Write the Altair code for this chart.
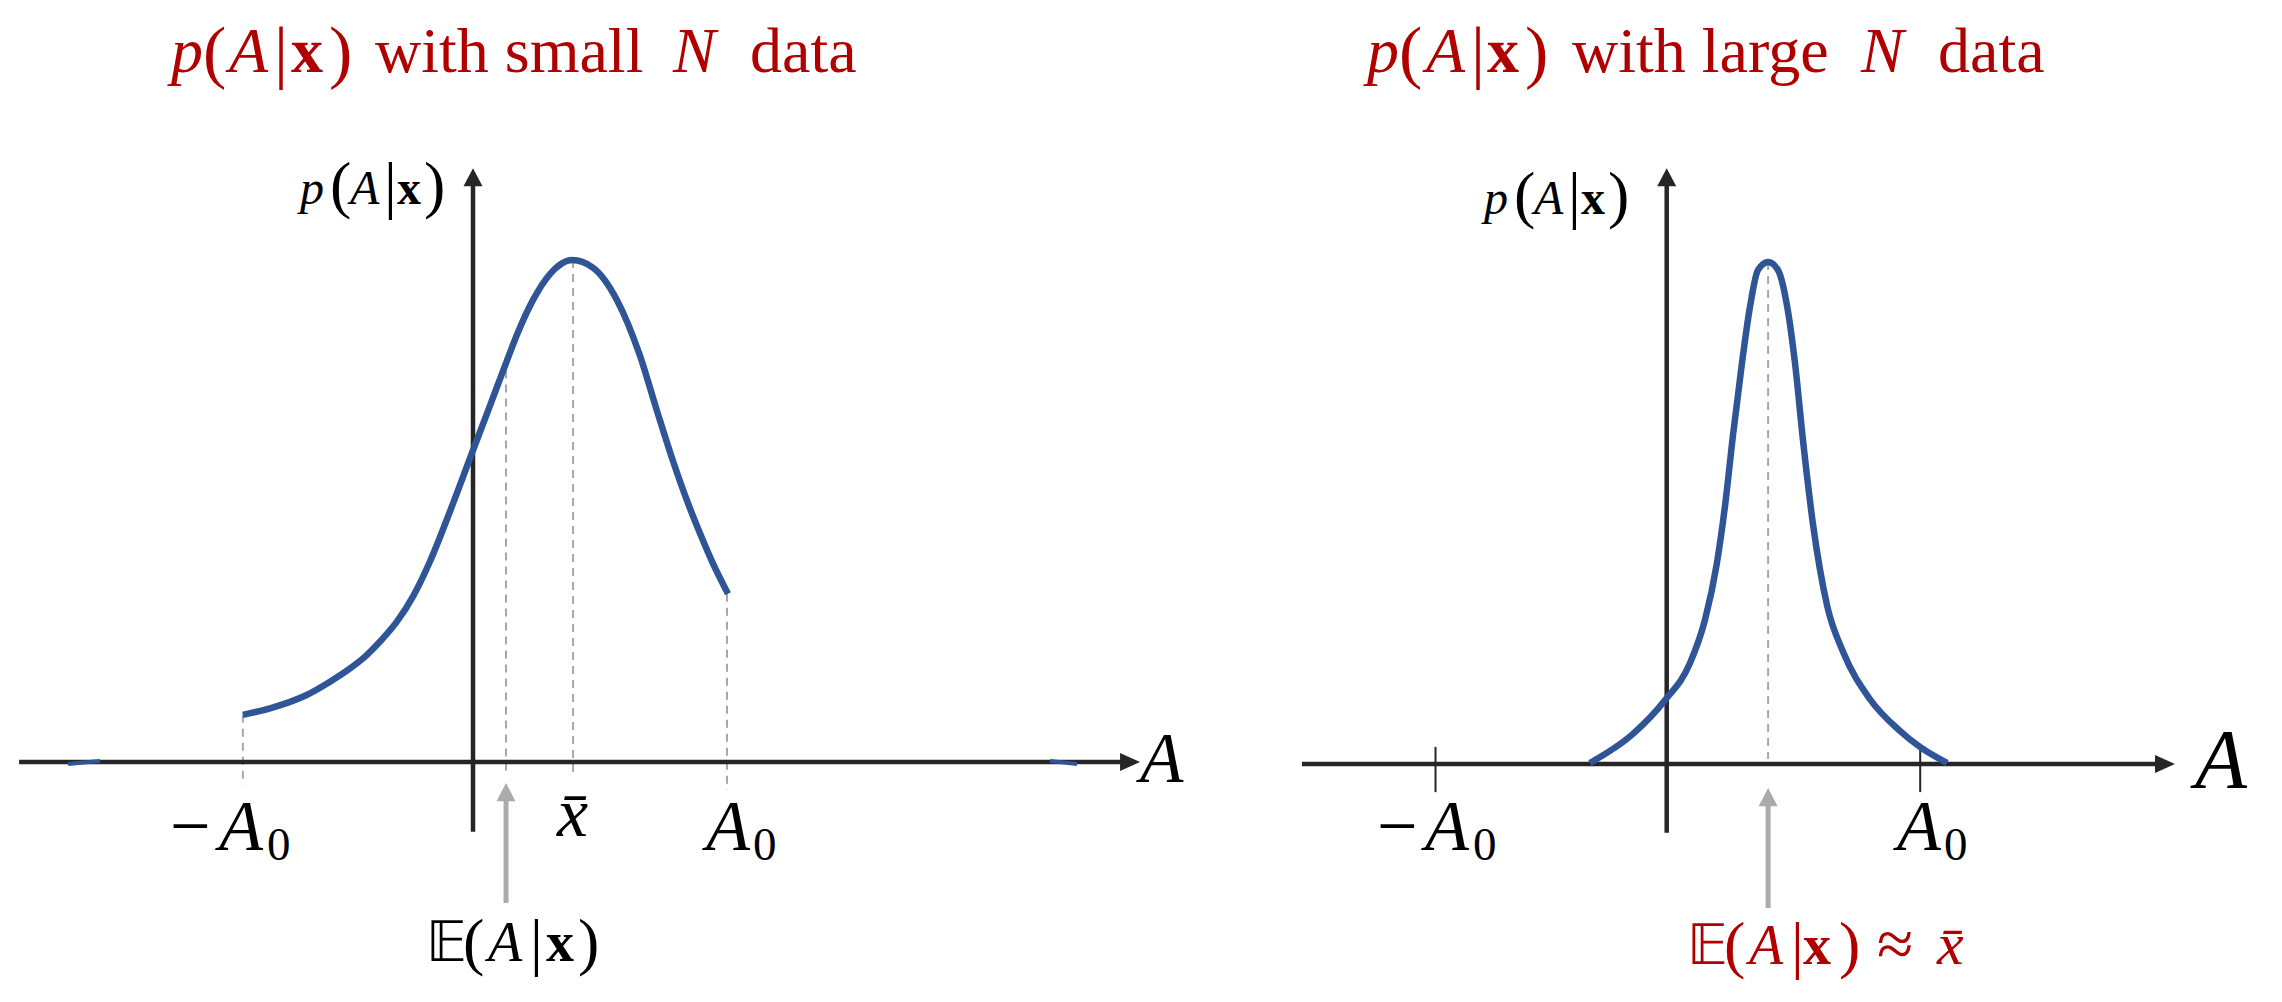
import altair as alt
import pandas as pd

# ---------------- values (A in units of A0, p relative to the peak) -------------
small_A = [-0.906, -0.799, -0.657, -0.563, -0.488, -0.425, -0.366, -0.299, -0.236, -0.169,
           -0.087, 0.0, 0.055, 0.134, 0.173, 0.236, 0.303, 0.390, 0.472, 0.567,
           0.657, 0.724, 0.787, 0.843, 0.894, 0.945, 1.004]
small_p = [0.094, 0.107, 0.133, 0.160, 0.185, 0.210, 0.240, 0.280, 0.330, 0.400,
           0.504, 0.621, 0.694, 0.800, 0.851, 0.920, 0.972, 1.000, 0.985, 0.920,
           0.810, 0.700, 0.600, 0.520, 0.455, 0.395, 0.335]
# zero-density stubs of the small-N curve outside [-A0, A0]
small_tail_A = [-1.594, -1.468, 2.272, 2.378]
small_tail_p = [-0.004, 0.002, 0.002, -0.004]
small_tail_seg = ["left", "left", "right", "right"]

large_A = [-0.303, -0.133, -0.007, 0.092, 0.151, 0.198, 0.230, 0.262, 0.297, 0.329,
           0.360, 0.400, 0.439, 0.475, 0.506, 0.538, 0.577, 0.633, 0.696, 0.802,
           0.920, 0.999, 1.106]
large_p = [0.002, 0.060, 0.127, 0.201, 0.287, 0.400, 0.514, 0.657, 0.799, 0.912,
           0.984, 1.000, 0.984, 0.912, 0.799, 0.643, 0.478, 0.315, 0.223, 0.129,
           0.066, 0.034, 0.002]

# landmarks on the A axis
small_negA0, small_E, small_xbar, small_A0 = -0.906, 0.13, 0.394, 1.0
small_p_negA0, small_p_E, small_p_xbar, small_p_A0 = 0.094, 0.78, 1.0, 0.335
large_negA0, large_xbar, large_A0 = -0.912, 0.40, 1.0
large_p_xbar = 1.0

title_words = ["with small", "with large"]

# ---------------- styling / layout ----------------
FONT = "Liberation Serif"
BLUE = "#2f5597"
INK = "#262626"
BLACK = "#000000"
RED = "#b00000"
DASH = "#a8a8a8"
GREY = "#ababab"
ARROW_RIGHT = "M0,0L-2.1,-0.95L-2.1,0.95Z"
ARROW_UP = "M0,0L-1,1.9L1,1.9Z"

LEFT = dict(width=1190, height=980, ox=465.0, oy=754.0, ux=254.0, uy=502.0)
RIGHT = dict(width=1076, height=980, ox=468.7, oy=756.0, ux=253.5, uy=502.0)


def enc_xy(P):
    xd = [-P["ox"] / P["ux"], (P["width"] - P["ox"]) / P["ux"]]
    yd = [(P["oy"] - P["height"]) / P["uy"], P["oy"] / P["uy"]]
    return dict(
        x=alt.X("A:Q", scale=alt.Scale(domain=xd, nice=False, zero=False), axis=None),
        y=alt.Y("p:Q", scale=alt.Scale(domain=yd, nice=False, zero=False), axis=None),
    )


def rules(P, rows, **mk):
    df = pd.DataFrame(rows, columns=["A", "p", "A2", "p2"])
    return alt.Chart(df).mark_rule(**mk).encode(**enc_xy(P), x2="A2:Q", y2="p2:Q")


def head(P, A, p, shape, color, size=361):
    df = pd.DataFrame({"A": [A], "p": [p]})
    return alt.Chart(df).mark_point(shape=shape, size=size, filled=True, color=color,
                                    opacity=1, strokeWidth=0).encode(**enc_xy(P))


def curve(P, A, p, seg=None, width=6.5):
    df = pd.DataFrame({"A": A, "p": p, "seg": seg if seg else ["c"] * len(A)})
    return alt.Chart(df).mark_line(color=BLUE, strokeWidth=width, interpolate="monotone").encode(
        **enc_xy(P), detail="seg:N")


def label(P, A, p, pieces, color):
    rows = []
    for txt, style, fs, dx, dy in pieces:
        rows.append(dict(A=A + dx / P["ux"], p=p - dy / P["uy"], t=txt, s=style, fs=fs, col=color))
    return rows


def texts(P, rows):
    df = pd.DataFrame(rows)
    out = []
    for style, kw in [("n", {}), ("i", {"fontStyle": "italic"}), ("b", {"fontWeight": "bold"})]:
        sub = df[df.s == style]
        if len(sub) == 0:
            continue
        out.append(alt.Chart(sub).mark_text(font=FONT, align="left", baseline="alphabetic", **kw).encode(
            **enc_xy(P), text="t:N",
            size=alt.Size("fs:Q", scale=None, legend=None),
            color=alt.Color("col:N", scale=None, legend=None)))
    return out


def pax(dx0, big, small, dyb):
    # pieces of p(A|x) with enlarged delimiters
    return [("p", "i", small, dx0[0], 0), ("(", "n", big, dx0[1], dyb), ("A", "i", small, dx0[2], 0),
            ("|", "n", big, dx0[3], dyb), ("x", "b", small, dx0[4], 0), (")", "n", big, dx0[5], dyb)]


def eax(dx0):
    return [("𝔼", "n", 56, dx0[0], 0), ("(", "n", 64, dx0[1], 2), ("A", "i", 56, dx0[2], 0),
            ("|", "n", 64, dx0[3], 2), ("x", "b", 56, dx0[4], 0), (")", "n", 64, dx0[5], 2)]


YLAB = [0, 30, 50, 84, 97, 124]

# ---------------- left panel: small N ----------------
L = LEFT
lrows = []
lrows += label(L, -1.1890, 1.3745,
               pax([0, 32, 58, 103, 120, 158], 70, 64, 3)
               + [(title_words[0], "n", 64, 204, 0), ("N", "i", 64, 502, 0), ("data", "n", 64, 579, 0)], RED)
lrows += label(L, -0.6811, 1.1116, pax(YLAB, 64, 48, 2), BLACK)
lrows += label(L, -1.1929, -0.1753, [("−", "n", 72, 0, 0), ("A", "i", 72, 49, 0), ("0", "n", 47, 97, 10)], BLACK)
lrows += label(L, 0.9173, -0.1753, [("A", "i", 72, 0, 0), ("0", "n", 47, 47, 10)], BLACK)
lrows += label(L, 0.3307, -0.1474, [("x̄", "i", 70, 0, 0)], BLACK)
lrows += label(L, -0.1850, -0.3964, eax([0, 37, 62, 104, 120, 152]), BLACK)
lrows += label(L, 2.6260, -0.0398, [("A", "i", 71, 0, 0)], BLACK)

left_layers = [
    rules(L, [[small_negA0, small_p_negA0, small_negA0, -0.046],
              [small_E, small_p_E, small_E, -0.022],
              [small_xbar, small_p_xbar, small_xbar, -0.020],
              [small_A0, small_p_A0, small_A0, -0.056]],
          color=DASH, strokeWidth=2, strokeDash=[8, 6]),
    rules(L, [[-1.787, 0, 2.567, 0], [0, -0.139, 0, 1.163]], color=INK, strokeWidth=4.5),
    head(L, 2.626, 0, ARROW_RIGHT, INK),
    head(L, 0, 1.183, ARROW_UP, INK),
    curve(L, small_A, small_p),
    curve(L, small_tail_A, small_tail_p, small_tail_seg, width=4),
    rules(L, [[small_E, -0.281, small_E, -0.066]], color=GREY, strokeWidth=5),
    head(L, small_E, -0.042, ARROW_UP, GREY),
] + texts(L, lrows)

# ---------------- right panel: large N ----------------
R = RIGHT
rrows = []
rrows += label(R, -1.1822, 1.3785,
               pax([0, 32, 59, 104, 120, 158], 70, 64, 3)
               + [(title_words[1], "n", 64, 205, 0), ("N", "i", 64, 494, 0), ("data", "n", 64, 571, 0)], RED)
rrows += label(R, -0.7207, 1.0956, pax(YLAB, 64, 48, 2), BLACK)
rrows += label(R, -1.1428, -0.1713, [("−", "n", 72, 0, 0), ("A", "i", 72, 48, 0), ("0", "n", 47, 96, 10)], BLACK)
rrows += label(R, 0.9085, -0.1713, [("A", "i", 72, 0, 0), ("0", "n", 47, 47, 10)], BLACK)
rrows += label(R, 0.0801, -0.3984, eax([0, 37, 62, 104, 116, 152])
               + [("≈", "n", 66, 190, 2), ("x̄", "i", 60, 250, 0)], RED)
rrows += label(R, 2.0840, -0.0478, [("A", "i", 85, 0, 0)], BLACK)

right_layers = [
    rules(R, [[large_xbar, large_p_xbar, large_xbar, 0.01]],
          color=DASH, strokeWidth=2, strokeDash=[8, 6]),
    rules(R, [[-1.439, 0, 1.958, 0], [0, -0.137, 0, 1.167]], color=INK, strokeWidth=4.5),
    rules(R, [[large_negA0, -0.056, large_negA0, 0.034], [large_A0, -0.056, large_A0, 0.034]],
          color=INK, strokeWidth=2),
    head(R, 2.005, 0, ARROW_RIGHT, INK),
    head(R, 0, 1.187, ARROW_UP, INK),
    curve(R, large_A, large_p),
    rules(R, [[large_xbar, -0.287, large_xbar, -0.072]], color=GREY, strokeWidth=5),
    head(R, large_xbar, -0.048, ARROW_UP, GREY),
] + texts(R, rrows)

left = alt.layer(*left_layers).properties(width=L["width"], height=L["height"])
right = alt.layer(*right_layers).properties(width=R["width"], height=R["height"])

chart = (alt.hconcat(left, right, spacing=0, bounds="flush")
         .properties(padding=0, background="white")
         .configure_view(stroke=None))

chart.save("out.html", embed_options={"renderer": "svg", "actions": False})
